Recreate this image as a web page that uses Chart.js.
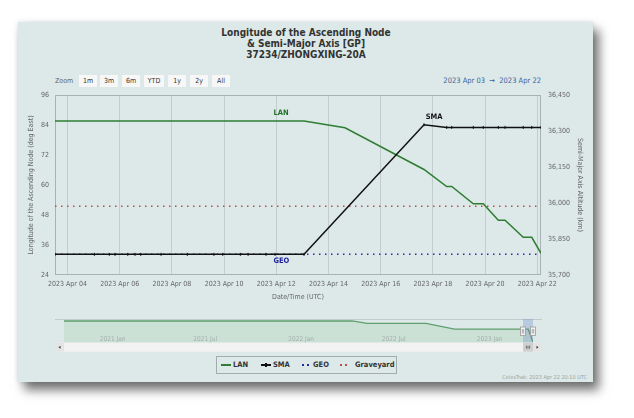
<!DOCTYPE html>
<html>
<head>
<meta charset="utf-8">
<script src="https://cdn.jsdelivr.net/npm/chart.js@4/dist/chart.umd.min.js"></script>
<style>
  body { margin: 0; width: 634px; height: 418px; background: #fff; position: relative; overflow: hidden;
         font-family: "DejaVu Sans Condensed", "DejaVu Sans", sans-serif; }
  #card { position: absolute; left: 18px; top: 22px; width: 575px; height: 360px; background: #dce9e8;
          box-shadow: 0 0 5px rgba(0,0,0,.12), 6px 8px 10px rgba(0,0,0,.55); }
  .t { position: absolute; white-space: nowrap; }
  #title { left: 0; width: 612px; top: 27px; text-align: center; font-weight: bold; font-size: 10px;
           line-height: 11px; color: #333; }
  .btn { position: absolute; top: 75px; height: 12px; line-height: 12px; background: #f7f7f7; color: #333;
         font-size: 7px; text-align: center; }
  #zoomLbl { left: 55px; top: 75px; line-height: 12px; font-size: 7px; color: #666; }
  #range { right: 93px; top: 75px; line-height: 12px; font-size: 7.5px; color: #3f5f9c; }
  #legend { position: absolute; left: 216px; top: 356px; width: 179px; height: 16px; border: 1px solid #a3acac; }
  .lg { position: absolute; top: 365px; line-height: 0; font-size: 7.5px; font-weight: bold; color: #333; }
  .sym { position: absolute; }
  #credits { right: 47px; top: 374px; font-size: 5.5px; color: #9aa6a6; }
  canvas { position: absolute; left: 0; pointer-events: none; }
</style>
</head>
<body>
<div id="card"></div>
<div class="t" id="title">Longitude of the Ascending Node<br>&amp; Semi-Major Axis [GP]<br>37234/ZHONGXING-20A</div>
<div class="t" id="zoomLbl">Zoom</div>
<div class="btn" style="left:79px;width:18px">1m</div>
<div class="btn" style="left:100px;width:18px">3m</div>
<div class="btn" style="left:122px;width:18px">6m</div>
<div class="btn" style="left:144px;width:20px">YTD</div>
<div class="btn" style="left:168px;width:18px">1y</div>
<div class="btn" style="left:190px;width:18px">2y</div>
<div class="btn" style="left:212px;width:18px">All</div>
<div class="t" id="range">2023 Apr 03 &nbsp;→&nbsp; 2023 Apr 22</div>

<div id="legend"></div>
<div class="sym" style="left:221px;top:364px;width:10px;height:2px;background:#2e7d32"></div>
<div class="t lg" style="left:233px">LAN</div>
<div class="sym" style="left:261px;top:364px;width:10px;height:2px;background:#111"></div>
<div class="sym" style="left:265px;top:363px;width:2px;height:4px;background:#111"></div>
<div class="t lg" style="left:273px">SMA</div>
<div class="sym" style="left:302px;top:364px;width:1.6px;height:1.6px;background:#2a2aa8"></div>
<div class="sym" style="left:307px;top:364px;width:1.6px;height:1.6px;background:#2a2aa8"></div>
<div class="t lg" style="left:313px">GEO</div>
<div class="sym" style="left:340px;top:364px;width:1.6px;height:1.6px;background:#b5504a"></div>
<div class="sym" style="left:345px;top:364px;width:1.6px;height:1.6px;background:#b5504a"></div>
<div class="t lg" style="left:355px">Graveyard</div>
<div class="t" id="credits">CelesTrak: 2023 Apr 22 20:10 UTC</div>

<canvas id="main" width="634" height="418" style="top:0"></canvas>
<canvas id="nav" width="634" height="60" style="top:300px"></canvas>

<script>
// visible range of the main chart
const xMin = '2023-04-03T12:30Z';
const xMax = '2023-04-22T03:25Z';
const xTickDates = ['2023-04-04', '2023-04-06', '2023-04-08', '2023-04-10', '2023-04-12',
                    '2023-04-14', '2023-04-16', '2023-04-18', '2023-04-20', '2023-04-22'];

// longitude of the ascending node (deg East)
const lanTimes = ['2023-04-03T12:30Z', '2023-04-13T01:30Z', '2023-04-14T15:10Z', '2023-04-17T15:50Z',
                  '2023-04-18T12:40Z', '2023-04-18T17:20Z', '2023-04-19T13:10Z', '2023-04-19T22:20Z',
                  '2023-04-20T12:10Z', '2023-04-20T18:20Z', '2023-04-21T11:05Z', '2023-04-21T18:55Z',
                  '2023-04-22T03:25Z'];
const lanValues = [85.6, 85.6, 82.9, 66.2, 59.4, 59.4, 52.5, 52.5, 45.9, 45.9, 39.1, 39.1, 32.7];

// semi-major axis altitude (km)
const smaTimes = ['2023-04-03T12:30Z', '2023-04-05T00:40Z', '2023-04-05T14:25Z', '2023-04-05T19:40Z',
                  '2023-04-06T07:25Z', '2023-04-06T14:05Z', '2023-04-06T19:20Z', '2023-04-07T14:00Z',
                  '2023-04-08T14:10Z', '2023-04-09T14:40Z', '2023-04-09T22:45Z', '2023-04-10T14:55Z',
                  '2023-04-10T22:05Z', '2023-04-11T14:35Z', '2023-04-11T22:50Z', '2023-04-13T01:30Z',
                  '2023-04-17T15:50Z', '2023-04-18T12:40Z', '2023-04-18T17:20Z', '2023-04-19T13:10Z',
                  '2023-04-19T22:20Z', '2023-04-20T12:10Z', '2023-04-20T18:20Z', '2023-04-21T11:05Z',
                  '2023-04-21T18:55Z', '2023-04-22T03:25Z'];
const smaValues = [35786, 35786, 35786, 35786, 35786, 35786, 35786, 35786,
                   35786, 35786, 35786, 35786, 35786, 35786, 35786, 35786,
                   36326, 36315, 36315, 36315, 36315, 36315, 36315, 36315, 36315, 36315];

const geoAltitude = 35786;
const graveyardAltitude = 35986;

// navigator (whole history of LAN)
const navMin = '2020-10-26';
const navTimes = ['2020-10-26', '2022-05-07', '2022-06-05', '2022-09-27', '2022-11-21',
                  '2023-04-13', '2023-04-22T03:25Z'];
const navLanValues = [119, 119, 109.6, 109.6, 85.6, 85.6, 32.7];
const navTickDates = ['2021-01-01', '2021-07-01', '2022-01-01', '2022-07-01', '2023-01-01'];

const leftTicks = [24, 36, 48, 60, 72, 84, 96];
const rightTicks = [35700, 35850, 36000, 36150, 36300, 36450];

const months = ['Jan', 'Feb', 'Mar', 'Apr', 'May', 'Jun', 'Jul', 'Aug', 'Sep', 'Oct', 'Nov', 'Dec'];
const fmtDay = v => {
    const d = new Date(v);
    return d.getUTCFullYear() + ' ' + months[d.getUTCMonth()] + ' ' + String(d.getUTCDate()).padStart(2, '0');
};
const fmtMonth = v => {
    const d = new Date(v);
    return d.getUTCFullYear() + ' ' + months[d.getUTCMonth()];
};
const toPoints = (times, values) => times.map((t, i) => ({x: Date.parse(t), y: values[i]}));

Chart.defaults.font.family = '"DejaVu Sans Condensed", "DejaVu Sans", sans-serif';
Chart.defaults.font.size = 7;
Chart.defaults.color = '#666';

const plotBorder = {
    id: 'plotBorder',
    beforeDatasetsDraw(chart) {
        const {ctx, chartArea: a} = chart;
        ctx.save();
        ctx.strokeStyle = '#a9b2b2';
        ctx.lineWidth = 1;
        ctx.strokeRect(a.left + 0.5, a.top + 0.5, a.right - a.left - 1, a.bottom - a.top - 1);
        ctx.restore();
    }
};

const seriesLabels = {
    id: 'seriesLabels',
    afterDatasetsDraw(chart, args, opts) {
        const ctx = chart.ctx;
        ctx.save();
        ctx.font = 'bold 7.5px "DejaVu Sans Condensed", "DejaVu Sans", sans-serif';
        ctx.textAlign = 'center';
        ctx.textBaseline = 'middle';
        opts.items.forEach(it => {
            ctx.fillStyle = it.color;
            ctx.fillText(it.text, chart.scales.x.getPixelForValue(Date.parse(it.at)),
                chart.scales[it.axis].getPixelForValue(it.value));
        });
        ctx.restore();
    }
};

const mainConfig = {
    type: 'line',
    data: {
        datasets: [
            {
                label: 'SMA',
                data: toPoints(smaTimes, smaValues),
                yAxisID: 'y1',
                borderColor: '#111',
                borderWidth: 1.5,
                pointStyle: 'line',
                rotation: 90,
                pointRadius: 1.5,
                pointBorderWidth: 1,
                pointBorderColor: '#111',
            },
            {
                label: 'LAN',
                data: toPoints(lanTimes, lanValues),
                yAxisID: 'y',
                borderColor: '#2e7d32',
                borderWidth: 1.5,
                pointRadius: 0,
            },
            {
                label: 'GEO',
                data: toPoints([xMin, xMax], [geoAltitude, geoAltitude]),
                yAxisID: 'y1',
                borderColor: '#2a2aa8',
                borderWidth: 1.5,
                borderDash: [1.5, 4.5],
                pointRadius: 0,
            },
            {
                label: 'Graveyard',
                data: toPoints([xMin, xMax], [graveyardAltitude, graveyardAltitude]),
                yAxisID: 'y1',
                borderColor: '#b5504a',
                borderWidth: 1.5,
                borderDash: [1.5, 4.5],
                pointRadius: 0,
            }
        ]
    },
    options: {
        responsive: false,
        animation: false,
        events: [],
        layout: {padding: {left: 24, right: 49, top: 95, bottom: 117}},
        plugins: {
            legend: {display: false},
            tooltip: {enabled: false},
            seriesLabels: {
                items: [
                    {text: 'LAN', color: '#22702a', axis: 'y', at: '2023-04-12T04:20Z', value: 88.7},
                    {text: 'SMA', color: '#111', axis: 'y1', at: '2023-04-18T01:10Z', value: 36360},
                    {text: 'GEO', color: '#1f1fa0', axis: 'y1', at: '2023-04-12T04:40Z', value: 35760},
                ]
            }
        },
        scales: {
            x: {
                type: 'linear',
                min: Date.parse(xMin),
                max: Date.parse(xMax),
                afterFit: a => { a.height = 26; },
                afterBuildTicks: a => { a.ticks = xTickDates.map(d => ({value: Date.parse(d)})); },
                grid: {color: '#c3cdcd', drawTicks: false},
                border: {display: false},
                ticks: {padding: 5, maxRotation: 0, autoSkip: false, callback: v => fmtDay(v)},
                title: {display: true, text: 'Date/Time (UTC)', padding: 0}
            },
            y: {
                position: 'left',
                min: 24,
                max: 96,
                afterFit: a => { a.width = 31; },
                afterBuildTicks: a => { a.ticks = leftTicks.map(v => ({value: v})); },
                grid: {display: false, drawTicks: false},
                border: {display: false},
                ticks: {padding: 6},
                title: {display: true, text: 'Longitude of the Ascending Node (deg East)', padding: {top: 3, bottom: 0}}
            },
            y1: {
                position: 'right',
                min: 35700,
                max: 36450,
                afterFit: a => { a.width = 44; },
                afterBuildTicks: a => { a.ticks = rightTicks.map(v => ({value: v})); },
                grid: {display: false, drawTicks: false},
                border: {display: false},
                ticks: {padding: 7, callback: v => v.toLocaleString('en-US')},
                title: {display: true, text: 'Semi-Major Axis Altitude (km)', padding: {top: 1, bottom: 0}}
            }
        }
    },
    plugins: [plotBorder, seriesLabels]
};

const mainChart = new Chart(document.getElementById('main'), mainConfig);

// navigator mask, handles and scrollbar
const navExtras = {
    id: 'navExtras',
    afterDraw(chart) {
        const {ctx, chartArea: a} = chart;
        const x = chart.scales.x;
        const x1 = Math.round(x.getPixelForValue(Date.parse(xMin)));
        const x2 = Math.round(x.getPixelForValue(Date.parse(xMax)));
        ctx.save();
        ctx.strokeStyle = '#c2cbcb';
        ctx.lineWidth = 1;
        ctx.beginPath();
        ctx.moveTo(55, a.top + 0.5);
        ctx.lineTo(542, a.top + 0.5);
        ctx.stroke();
        ctx.fillStyle = 'rgba(102,133,194,0.3)';
        ctx.fillRect(x1, a.top, x2 - x1, a.bottom - a.top);
        // scrollbar
        const sy = a.bottom, sh = 9;
        ctx.fillStyle = '#f2f2f2';
        ctx.fillRect(55, sy, 487, sh);
        ctx.fillStyle = '#e4e4e4';
        ctx.fillRect(55, sy, 9, sh);
        ctx.fillRect(533, sy, 9, sh);
        ctx.fillStyle = '#cfcfcf';
        ctx.fillRect(x1, sy, x2 - x1, sh);
        ctx.fillStyle = '#333';
        ctx.beginPath();
        ctx.moveTo(58.5, sy + 4.5); ctx.lineTo(60.5, sy + 3); ctx.lineTo(60.5, sy + 6); ctx.fill();
        ctx.beginPath();
        ctx.moveTo(538.5, sy + 4.5); ctx.lineTo(536.5, sy + 3); ctx.lineTo(536.5, sy + 6); ctx.fill();
        ctx.strokeStyle = '#333';
        ctx.lineWidth = 0.6;
        for (let k = -1; k <= 1; k++) {
            const cx = (x1 + x2) / 2 + k * 1.6;
            ctx.beginPath(); ctx.moveTo(cx, sy + 3); ctx.lineTo(cx, sy + 6); ctx.stroke();
        }
        // handles
        [x1, x2].forEach(hx => {
            ctx.fillStyle = '#f4f4f4';
            ctx.strokeStyle = '#999';
            ctx.lineWidth = 0.8;
            ctx.fillRect(hx - 2.5, 27, 5, 8.5);
            ctx.strokeRect(hx - 2.5, 27, 5, 8.5);
            ctx.beginPath();
            ctx.moveTo(hx - 0.7, 29); ctx.lineTo(hx - 0.7, 33.5);
            ctx.moveTo(hx + 0.7, 29); ctx.lineTo(hx + 0.7, 33.5);
            ctx.stroke();
        });
        ctx.restore();
    }
};

const navChart = new Chart(document.getElementById('nav'), {
    type: 'line',
    data: {
        datasets: [{
            data: toPoints(navTimes, navLanValues),
            borderColor: '#5f9f6e',
            borderWidth: 1.3,
            backgroundColor: '#cbe1d5',
            fill: 'start',
            pointRadius: 0,
        }]
    },
    options: {
        responsive: false,
        animation: false,
        events: [],
        layout: {padding: {left: 64, right: 101, top: 19, bottom: 17.3}},
        plugins: {legend: {display: false}, tooltip: {enabled: false}},
        scales: {
            x: {
                type: 'linear',
                min: Date.parse(navMin),
                max: Date.parse(xMax),
                afterFit: a => { a.height = 0; },
                afterBuildTicks: a => { a.ticks = navTickDates.map(d => ({value: Date.parse(d)})); },
                grid: {display: false, drawTicks: false},
                border: {display: false},
                ticks: {z: 1, mirror: true, padding: -0.5, align: 'start', maxRotation: 0, autoSkip: false,
                        color: '#a3adad', font: {size: 6.5}, callback: v => '\u2009' + fmtMonth(v)}
            },
            y: {display: false, min: 31, max: 127}
        }
    },
    plugins: [navExtras]
});
</script>
</body>
</html>
